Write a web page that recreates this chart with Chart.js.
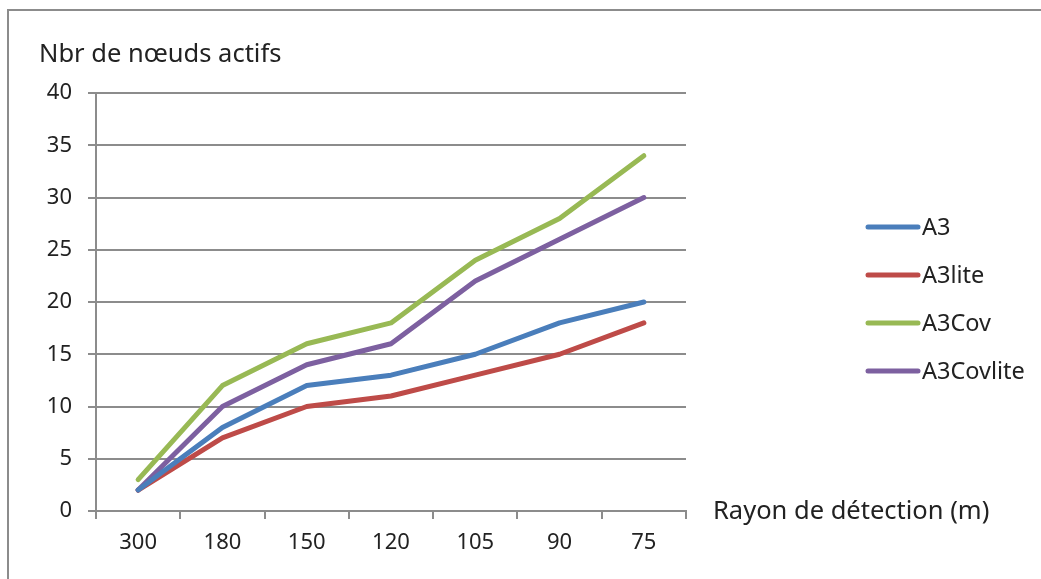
<!DOCTYPE html>
<html>
<head>
<meta charset="utf-8">
<script src="https://cdn.jsdelivr.net/npm/chart.js@4"></script>
<style>
  html, body { margin: 0; padding: 0; background: #fff; overflow: hidden; }
  #cadre { position: absolute; left: 7px; top: 9px; width: 1100px; height: 700px; border: 2px solid #8c8c8c; }
  #zone { position: absolute; left: 0; top: 0; width: 1041px; height: 579px; }
</style>
</head>
<body>
<div id="cadre"></div>
<div id="zone"><canvas id="noeuds"></canvas></div>
<script>
// données
const rayons = ['300', '180', '150', '120', '105', '90', '75'];
const a3 = [2, 8, 12, 13, 15, 18, 20];
const a3lite = [2, 7, 10, 11, 13, 15, 18];
const a3cov = [3, 12, 16, 18, 24, 28, 34];
const a3covlite = [2, 10, 14, 16, 22, 26, 30];
const titreY = 'Nbr de nœuds actifs';
const titreX = 'Rayon de détection (m)';

const police = '"Noto Sans", "Open Sans", sans-serif';
const gris = '#8c8c8c';

function serie(nom, valeurs, couleur) {
    return {
        label: nom,
        data: valeurs,
        borderColor: couleur,
        backgroundColor: couleur,
        borderWidth: 5,
        borderCapStyle: 'round',
        borderJoinStyle: 'round',
        pointRadius: 0,
        tension: 0
    };
}

// légende et titres des axes dessinés à la main
const decor = {
    id: 'decor',
    afterDraw(chart) {
        const ctx = chart.ctx;
        const zone = chart.chartArea;
        ctx.save();
        ctx.fillStyle = '#222';
        ctx.textBaseline = 'middle';
        ctx.textAlign = 'left';
        ctx.font = '25.5px ' + police;
        ctx.fillText(titreY, 39, 55);
        ctx.fillText(titreX, zone.right + 27, zone.bottom + 1);
        ctx.font = '23.5px ' + police;
        chart.data.datasets.forEach((ds, i) => {
            const y = 227 + i * 48;
            ctx.strokeStyle = ds.borderColor;
            ctx.lineWidth = 5;
            ctx.lineCap = 'round';
            ctx.beginPath();
            ctx.moveTo(868, y);
            ctx.lineTo(918, y);
            ctx.stroke();
            ctx.fillText(ds.label, 922, y + 1);
        });
        ctx.restore();
    }
};

const ctx = document.getElementById('noeuds').getContext('2d');
new Chart(ctx, {
    type: 'line',
    data: {
        labels: rayons,
        datasets: [
            serie('A3', a3, '#4a7ebb'),
            serie('A3lite', a3lite, '#be4b48'),
            serie('A3Cov', a3cov, '#98b954'),
            serie('A3Covlite', a3covlite, '#7d60a0')
        ]
    },
    options: {
        responsive: true,
        maintainAspectRatio: false,
        animation: false,
        layout: {
            padding: { left: 0, top: 93, right: 355, bottom: 0 }
        },
        plugins: {
            legend: { display: false },
            tooltip: { enabled: false }
        },
        scales: {
            x: {
                offset: true,
                afterFit: (s) => { s.height = 68; },
                grid: {
                    offset: true,
                    drawOnChartArea: false,
                    drawTicks: true,
                    tickLength: 8,
                    color: gris,
                    lineWidth: 2
                },
                border: { color: gris, width: 2 },
                ticks: {
                    color: '#222',
                    font: { family: police, size: 22 },
                    padding: 11,
                    maxRotation: 0
                }
            },
            y: {
                min: 0,
                max: 40,
                afterFit: (s) => { s.width = 96; },
                grid: {
                    color: gris,
                    lineWidth: 2,
                    tickLength: 8
                },
                border: { color: gris, width: 2 },
                ticks: {
                    stepSize: 5,
                    color: '#222',
                    font: { family: police, size: 22 },
                    padding: 16
                }
            }
        }
    },
    plugins: [decor]
});
</script>
</body>
</html>
